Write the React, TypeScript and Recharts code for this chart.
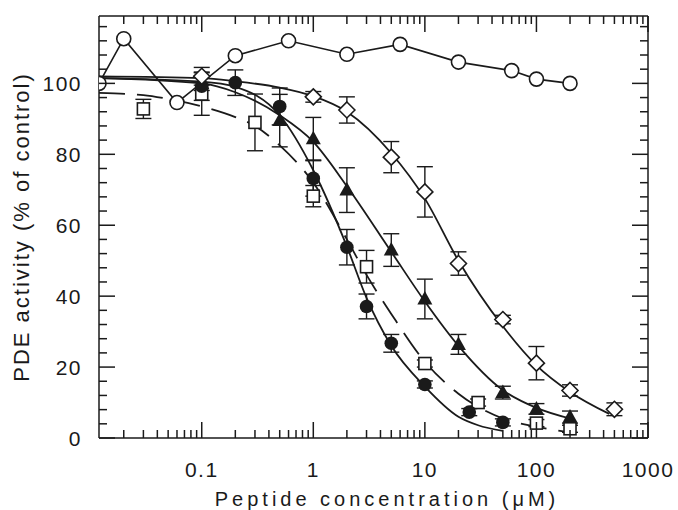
import React from "react"
import { ComposedChart, Line, Scatter, XAxis, YAxis, ErrorBar } from "recharts"

const INK = "#1a1a1a"
const FONT = "'Liberation Sans', Arial, sans-serif"

// axis ticks
const X_MAJOR = [0.1, 1, 10, 100, 1000]
const X_LABELS = ["0.1", "1", "10", "100", "1000"]
const X_DECADES = [0.01, 0.1, 1, 10, 100]
const MINOR_STEPS = [2, 3, 4, 5, 6, 7, 8, 9]
const Y_MAJOR = [0, 20, 40, 60, 80, 100]
const Y_LABELS = ["0", "20", "40", "60", "80", "100"]
const Y_MINOR = [4, 8, 12, 16, 24, 28, 32, 36, 44, 48, 52, 56, 64, 68, 72, 76, 84, 88, 92, 96, 104, 108, 112, 116]

// open circles (control peptide)
const ctrlX = [0.012, 0.02, 0.06, 0.2, 0.6, 2, 6, 20, 60, 100, 200]
const ctrlY = [100, 112.6, 94.6, 107.8, 112, 108.2, 111, 106, 103.6, 101.2, 100]

// open diamonds
const diaX = [0.1, 1, 2, 5, 10, 20, 50, 100, 200, 500]
const diaY = [102, 96.2, 92.5, 79.2, 69.4, 49.2, 33.4, 21.1, 13.4, 8.1]
const diaErr = [2.5, 1.5, 3.7, 4.4, 7.1, 3.3, 1.2, 4.7, 1.6, 1.8]
const diaFitX = [0.012, 0.1, 0.2, 0.5, 1, 2, 5, 10, 20, 50, 100, 200, 450]
const diaFitY = [102, 101.5, 100.6, 98.8, 96.4, 92, 80.3, 67.5, 50, 31.5, 20.5, 13, 6.8]

// filled triangles
const triX = [0.1, 0.5, 1, 2, 5, 10, 20, 50, 100, 200]
const triY = [100, 89.5, 84.4, 69.9, 53, 39.2, 26.4, 12.8, 8.2, 5.9]
const triErr = [2, 7.4, 6, 6.3, 4.6, 5.6, 2.8, 1.8, 1.5, 1.7]
const triFitX = [0.012, 0.1, 0.2, 0.5, 1, 2, 5, 10, 20, 50, 100, 200]
const triFitY = [101.5, 100, 97.5, 91, 83.5, 71, 52.5, 38.5, 26, 13.5, 8.5, 5.5]

// filled circles
const dotX = [0.1, 0.2, 0.5, 1, 2, 3, 5, 10, 25, 50]
const dotY = [99.2, 100.2, 93.5, 73.2, 53.8, 37.1, 26.7, 15.1, 7.3, 4.4]
const dotErr = [4, 3.6, 5.2, 5, 5, 3.5, 2.5, 1, 1, 1]
const dotFitX = [0.012, 0.1, 0.2, 0.5, 1, 2, 3, 5, 10, 20, 30, 50]
const dotFitY = [101.5, 100.5, 99, 91, 75.5, 54, 39.5, 26, 14.5, 6, 3.6, 2]

// open squares
const sqX = [0.03, 0.1, 0.3, 1, 3, 10, 30, 100, 200]
const sqY = [92.8, 97, 89, 68.2, 48.3, 21, 10, 4.2, 2.6]
const sqErr = [2.7, 6, 8, 3, 4.6, 1, 1, 1, 1]
const sqFitX = [0.012, 0.03, 0.05, 0.1, 0.2, 0.3, 0.5, 1, 2, 3, 5, 10, 20, 50, 100, 200]
const sqFitY = [97.3, 96.7, 95.6, 93.5, 90.5, 88, 82.5, 72, 56, 46, 35, 21.5, 12.5, 5.5, 3.2, 1.6]

const pts = (xs: number[], ys: number[], errs?: number[]) =>
  xs.map((x, i) => ({ x, y: ys[i], err: errs ? errs[i] : 0 }))

const xMinor = X_DECADES.flatMap((d) => MINOR_STEPS.map((m) => d * m))
const xTicks = [...X_MAJOR, ...xMinor].sort((a, b) => a - b)
const yTicks = [...Y_MAJOR, ...Y_MINOR].sort((a, b) => a - b)

const isXMajor = (v: number) => X_MAJOR.findIndex((m) => Math.abs(m - v) < 1e-9 * m)

function BottomTick({ x, y, payload }: any) {
  const mi = isXMajor(payload.value)
  return (
    <g>
      <line x1={x} x2={x} y1={y} y2={y - (mi >= 0 ? 16 : 8)} stroke={INK} strokeWidth={1.5} />
      {mi >= 0 && (
        <text x={x} y={y + 39} textAnchor="middle" fontSize={21} letterSpacing={1.5} fill={INK} fontFamily={FONT}>
          {X_LABELS[mi]}
        </text>
      )}
    </g>
  )
}

function TopTick({ x, y, payload }: any) {
  const mi = isXMajor(payload.value)
  return <line x1={x} x2={x} y1={y} y2={y + (mi >= 0 ? 16 : 8)} stroke={INK} strokeWidth={1.5} />
}

function LeftTick({ x, y, payload }: any) {
  const mi = Y_MAJOR.indexOf(payload.value)
  return (
    <g>
      <line x1={x} x2={x + (mi >= 0 ? 16 : 8)} y1={y} y2={y} stroke={INK} strokeWidth={1.5} />
      {mi >= 0 && (
        <text x={x - 17} y={y} dy="0.36em" textAnchor="end" fontSize={21} letterSpacing={1.5} fill={INK} fontFamily={FONT}>
          {Y_LABELS[mi]}
        </text>
      )}
    </g>
  )
}

function RightTick({ x, y, payload }: any) {
  const major = Y_MAJOR.includes(payload.value)
  return <line x1={x} x2={x - (major ? 16 : 8)} y1={y} y2={y} stroke={INK} strokeWidth={1.5} />
}

const OpenCircle = (p: any) =>
  p.cx == null ? null : <circle key={`oc${p.index}`} cx={p.cx} cy={p.cy} r={7} fill="#fff" stroke={INK} strokeWidth={1.6} />
const FilledCircle = (p: any) => <circle cx={p.cx} cy={p.cy} r={6.8} fill={INK} />
const Triangle = (p: any) => (
  <polygon points={`${p.cx},${p.cy - 8} ${p.cx - 7.5},${p.cy + 5.5} ${p.cx + 7.5},${p.cy + 5.5}`} fill={INK} />
)
const Diamond = (p: any) => (
  <polygon
    points={`${p.cx},${p.cy - 8} ${p.cx + 8},${p.cy} ${p.cx},${p.cy + 8} ${p.cx - 8},${p.cy}`}
    fill="#fff"
    stroke={INK}
    strokeWidth={1.6}
  />
)
const Square = (p: any) => (
  <rect x={p.cx - 6} y={p.cy - 6} width={12} height={12} fill="#fff" stroke={INK} strokeWidth={1.6} />
)

export default function App() {
  return (
    <div style={{ position: "absolute", left: 0, top: 0, width: 678, height: 510, background: "#fff" }}>
      <ComposedChart width={678} height={510} margin={{ top: 0, right: 0, bottom: 0, left: 0 }}>
        <XAxis
          dataKey="x"
          type="number"
          scale="log"
          domain={[0.012, 1000]}
          allowDataOverflow
          ticks={xTicks}
          interval={0}
          height={72}
          tickSize={0}
          tickMargin={0}
          tickLine={false}
          tick={<BottomTick />}
          axisLine={{ stroke: INK, strokeWidth: 1.5 }}
          label={() => (
            <text x={387} y={506} textAnchor="middle" fontSize={20} letterSpacing={4} fill={INK} fontFamily={FONT}>
              Peptide concentration (μM)
            </text>
          )}
        />
        <XAxis
          xAxisId="top"
          orientation="top"
          dataKey="x"
          type="number"
          scale="log"
          domain={[0.012, 1000]}
          allowDataOverflow
          ticks={xTicks}
          interval={0}
          height={16}
          tickSize={0}
          tickMargin={0}
          tickLine={false}
          tick={<TopTick />}
          axisLine={{ stroke: INK, strokeWidth: 1.5 }}
        />
        <YAxis
          dataKey="y"
          type="number"
          domain={[0, 119]}
          allowDataOverflow
          ticks={yTicks}
          interval={0}
          width={99}
          tickSize={0}
          tickMargin={0}
          tickLine={false}
          tick={<LeftTick />}
          axisLine={{ stroke: INK, strokeWidth: 1.5 }}
          label={() => (
            <text
              x={29}
              y={227}
              transform="rotate(-90, 29, 227)"
              textAnchor="middle"
              fontSize={22}
              letterSpacing={2}
              fill={INK}
              fontFamily={FONT}
            >
              PDE activity (% of control)
            </text>
          )}
        />
        <YAxis
          yAxisId="right"
          orientation="right"
          type="number"
          domain={[0, 119]}
          allowDataOverflow
          ticks={yTicks}
          interval={0}
          width={30}
          tickSize={0}
          tickMargin={0}
          tickLine={false}
          tick={<RightTick />}
          axisLine={{ stroke: INK, strokeWidth: 1.5 }}
        />

        <Line data={pts(diaFitX, diaFitY)} dataKey="y" type="monotone" stroke={INK} strokeWidth={1.8} dot={false} isAnimationActive={false} />
        <Line data={pts(triFitX, triFitY)} dataKey="y" type="monotone" stroke={INK} strokeWidth={1.8} dot={false} isAnimationActive={false} />
        <Line data={pts(dotFitX, dotFitY)} dataKey="y" type="monotone" stroke={INK} strokeWidth={1.8} dot={false} isAnimationActive={false} />
        <Line
          data={pts(sqFitX, sqFitY)}
          dataKey="y"
          type="monotone"
          stroke={INK}
          strokeWidth={1.8}
          strokeDasharray="26 12"
          dot={false}
          isAnimationActive={false}
        />
        <Line data={pts(ctrlX, ctrlY)} dataKey="y" type="linear" stroke={INK} strokeWidth={1.6} dot={OpenCircle} isAnimationActive={false} />

        <Scatter data={pts(sqX, sqY, sqErr)} dataKey="y" shape={Square} isAnimationActive={false}>
          <ErrorBar dataKey="err" direction="y" width={8} stroke={INK} strokeWidth={1.4} />
        </Scatter>
        <Scatter data={pts(dotX, dotY, dotErr)} dataKey="y" shape={FilledCircle} isAnimationActive={false}>
          <ErrorBar dataKey="err" direction="y" width={8} stroke={INK} strokeWidth={1.4} />
        </Scatter>
        <Scatter data={pts(triX, triY, triErr)} dataKey="y" shape={Triangle} isAnimationActive={false}>
          <ErrorBar dataKey="err" direction="y" width={8} stroke={INK} strokeWidth={1.4} />
        </Scatter>
        <Scatter data={pts(diaX, diaY, diaErr)} dataKey="y" shape={Diamond} isAnimationActive={false}>
          <ErrorBar dataKey="err" direction="y" width={8} stroke={INK} strokeWidth={1.4} />
        </Scatter>
      </ComposedChart>
    </div>
  )
}
